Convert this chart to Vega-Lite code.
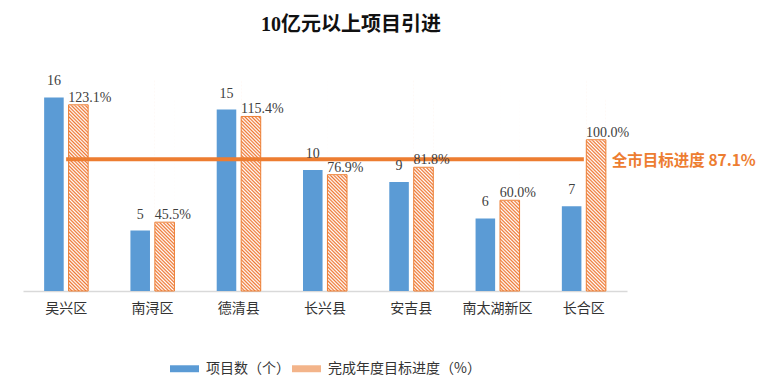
{
  "$schema": "https://vega.github.io/schema/vega-lite/v6.json",
  "width": 604,
  "height": 242,
  "autosize": "none",
  "padding": {"left": 23, "top": 49, "right": 141, "bottom": 98},
  "background": "white",
  "title": {"text": "10亿元以上项目引进", "font": "Liberation Serif, Noto Sans CJK SC", "fontSize": 20, "fontWeight": "bold", "color": "#111111", "anchor": "middle", "frame": "group", "dx": 26, "offset": 14},
  "config": {
    "view": {"stroke": null},
    "axisX": {"domainColor": "#D9D9D9", "domainWidth": 1.5, "ticks": false, "labelFont": "Noto Sans CJK SC", "labelFontSize": 14, "labelColor": "#333333", "labelPadding": 10, "labelAngle": 0, "grid": false}
  },
  "data": {"values": [
    {"region": "吴兴区", "count": 16, "pct": 1.231},
    {"region": "南浔区", "count": 5, "pct": 0.455},
    {"region": "德清县", "count": 15, "pct": 1.154},
    {"region": "长兴县", "count": 10, "pct": 0.769},
    {"region": "安吉县", "count": 9, "pct": 0.818},
    {"region": "南太湖新区", "count": 6, "pct": 0.6},
    {"region": "长合区", "count": 7, "pct": 1.0}
  ]},
  "encoding": {
    "x": {"field": "region", "type": "nominal", "title": null, "scale": {"domain": ["吴兴区", "南浔区", "德清县", "长兴县", "安吉县", "南太湖新区", "长合区"], "paddingInner": 0.49, "paddingOuter": 0.245}}
  },
  "layer": [
    {
      "mark": {"type": "bar", "fill": {"gradient": "linear", "x1": 0, "y1": 1, "x2": 0.0868, "y2": -0.0738, "stops": [
        {"offset": 0, "color": "#e73"}, {"offset": 0.0067, "color": "#fff"}, {"offset": 0.0133, "color": "#e73"}, {"offset": 0.02, "color": "#fff"},
        {"offset": 0.0267, "color": "#e73"}, {"offset": 0.0333, "color": "#fff"}, {"offset": 0.04, "color": "#e73"}, {"offset": 0.0467, "color": "#fff"},
        {"offset": 0.0533, "color": "#e73"}, {"offset": 0.06, "color": "#fff"}, {"offset": 0.0667, "color": "#e73"}, {"offset": 0.0733, "color": "#fff"},
        {"offset": 0.08, "color": "#e73"}, {"offset": 0.0867, "color": "#fff"}, {"offset": 0.0933, "color": "#e73"}, {"offset": 0.1, "color": "#fff"},
        {"offset": 0.1067, "color": "#e73"}, {"offset": 0.1133, "color": "#fff"}, {"offset": 0.12, "color": "#e73"}, {"offset": 0.1267, "color": "#fff"},
        {"offset": 0.1333, "color": "#e73"}, {"offset": 0.14, "color": "#fff"}, {"offset": 0.1467, "color": "#e73"}, {"offset": 0.1533, "color": "#fff"},
        {"offset": 0.16, "color": "#e73"}, {"offset": 0.1667, "color": "#fff"}, {"offset": 0.1733, "color": "#e73"}, {"offset": 0.18, "color": "#fff"},
        {"offset": 0.1867, "color": "#e73"}, {"offset": 0.1933, "color": "#fff"}, {"offset": 0.2, "color": "#e73"}, {"offset": 0.2067, "color": "#fff"},
        {"offset": 0.2133, "color": "#e73"}, {"offset": 0.22, "color": "#fff"}, {"offset": 0.2267, "color": "#e73"}, {"offset": 0.2333, "color": "#fff"},
        {"offset": 0.24, "color": "#e73"}, {"offset": 0.2467, "color": "#fff"}, {"offset": 0.2533, "color": "#e73"}, {"offset": 0.26, "color": "#fff"},
        {"offset": 0.2667, "color": "#e73"}, {"offset": 0.2733, "color": "#fff"}, {"offset": 0.28, "color": "#e73"}, {"offset": 0.2867, "color": "#fff"},
        {"offset": 0.2933, "color": "#e73"}, {"offset": 0.3, "color": "#fff"}, {"offset": 0.3067, "color": "#e73"}, {"offset": 0.3133, "color": "#fff"},
        {"offset": 0.32, "color": "#e73"}, {"offset": 0.3267, "color": "#fff"}, {"offset": 0.3333, "color": "#e73"}, {"offset": 0.34, "color": "#fff"},
        {"offset": 0.3467, "color": "#e73"}, {"offset": 0.3533, "color": "#fff"}, {"offset": 0.36, "color": "#e73"}, {"offset": 0.3667, "color": "#fff"},
        {"offset": 0.3733, "color": "#e73"}, {"offset": 0.38, "color": "#fff"}, {"offset": 0.3867, "color": "#e73"}, {"offset": 0.3933, "color": "#fff"},
        {"offset": 0.4, "color": "#e73"}, {"offset": 0.4067, "color": "#fff"}, {"offset": 0.4133, "color": "#e73"}, {"offset": 0.42, "color": "#fff"},
        {"offset": 0.4267, "color": "#e73"}, {"offset": 0.4333, "color": "#fff"}, {"offset": 0.44, "color": "#e73"}, {"offset": 0.4467, "color": "#fff"},
        {"offset": 0.4533, "color": "#e73"}, {"offset": 0.46, "color": "#fff"}, {"offset": 0.4667, "color": "#e73"}, {"offset": 0.4733, "color": "#fff"},
        {"offset": 0.48, "color": "#e73"}, {"offset": 0.4867, "color": "#fff"}, {"offset": 0.4933, "color": "#e73"}, {"offset": 0.5, "color": "#fff"},
        {"offset": 0.5067, "color": "#e73"}, {"offset": 0.5133, "color": "#fff"}, {"offset": 0.52, "color": "#e73"}, {"offset": 0.5267, "color": "#fff"},
        {"offset": 0.5333, "color": "#e73"}, {"offset": 0.54, "color": "#fff"}, {"offset": 0.5467, "color": "#e73"}, {"offset": 0.5533, "color": "#fff"},
        {"offset": 0.56, "color": "#e73"}, {"offset": 0.5667, "color": "#fff"}, {"offset": 0.5733, "color": "#e73"}, {"offset": 0.58, "color": "#fff"},
        {"offset": 0.5867, "color": "#e73"}, {"offset": 0.5933, "color": "#fff"}, {"offset": 0.6, "color": "#e73"}, {"offset": 0.6067, "color": "#fff"},
        {"offset": 0.6133, "color": "#e73"}, {"offset": 0.62, "color": "#fff"}, {"offset": 0.6267, "color": "#e73"}, {"offset": 0.6333, "color": "#fff"},
        {"offset": 0.64, "color": "#e73"}, {"offset": 0.6467, "color": "#fff"}, {"offset": 0.6533, "color": "#e73"}, {"offset": 0.66, "color": "#fff"},
        {"offset": 0.6667, "color": "#e73"}, {"offset": 0.6733, "color": "#fff"}, {"offset": 0.68, "color": "#e73"}, {"offset": 0.6867, "color": "#fff"},
        {"offset": 0.6933, "color": "#e73"}, {"offset": 0.7, "color": "#fff"}, {"offset": 0.7067, "color": "#e73"}, {"offset": 0.7133, "color": "#fff"},
        {"offset": 0.72, "color": "#e73"}, {"offset": 0.7267, "color": "#fff"}, {"offset": 0.7333, "color": "#e73"}, {"offset": 0.74, "color": "#fff"},
        {"offset": 0.7467, "color": "#e73"}, {"offset": 0.7533, "color": "#fff"}, {"offset": 0.76, "color": "#e73"}, {"offset": 0.7667, "color": "#fff"},
        {"offset": 0.7733, "color": "#e73"}, {"offset": 0.78, "color": "#fff"}, {"offset": 0.7867, "color": "#e73"}, {"offset": 0.7933, "color": "#fff"},
        {"offset": 0.8, "color": "#e73"}, {"offset": 0.8067, "color": "#fff"}
      ]}},
      "encoding": {
        "xOffset": {"datum": "完成年度目标进度（%）", "scale": {"domain": ["项目数（个）", "完成年度目标进度（%）"], "paddingInner": 0.2, "paddingOuter": 0}},
        "y": {"datum": 1.6, "type": "quantitative", "scale": {"domain": [0, 1.6], "nice": false}, "axis": null},
        "y2": {"datum": 0}
      }
    },
    {
      "mark": {"type": "bar", "fill": "white", "stroke": "white", "strokeWidth": 1},
      "encoding": {
        "xOffset": {"datum": "完成年度目标进度（%）"},
        "y": {"field": "pct", "type": "quantitative", "scale": {"domain": [0, 1.6], "nice": false}, "axis": null},
        "y2": {"datum": 1.6}
      }
    },
    {
      "mark": {"type": "bar", "fill": "transparent", "stroke": "#ED7D31", "strokeWidth": 1},
      "encoding": {
        "xOffset": {"datum": "完成年度目标进度（%）"},
        "y": {"field": "pct", "type": "quantitative", "scale": {"domain": [0, 1.6], "nice": false}, "axis": null}
      }
    },
    {
      "mark": {"type": "bar", "opacity": 0},
      "encoding": {
        "xOffset": {"datum": "完成年度目标进度（%）"},
        "y": {"field": "pct", "type": "quantitative", "scale": {"domain": [0, 1.6], "nice": false}, "axis": null},
        "color": {"datum": "完成年度目标进度（%）"}
      }
    },
    {
      "mark": {"type": "bar"},
      "encoding": {
        "xOffset": {"datum": "项目数（个）"},
        "y": {"field": "count", "type": "quantitative", "scale": {"domain": [0, 20], "nice": false}, "axis": null},
        "color": {"datum": "项目数（个）", "scale": {"domain": ["项目数（个）", "完成年度目标进度（%）"], "range": ["#5B9BD5", "#F3B48A"]},
          "legend": {"orient": "none", "legendX": 147, "legendY": 305, "direction": "horizontal", "title": null, "symbolType": "M-1,-0.24H1V0.24H-1Z", "symbolSize": 841, "symbolStrokeWidth": 0, "labelFont": "Noto Sans CJK SC", "labelFontSize": 14, "labelColor": "#333333", "labelOffset": 7, "columnPadding": 2, "padding": 0}}
      }
    },
    {
      "data": {"values": [{"region": "吴兴区", "target": 0.871}, {"region": "长合区", "target": 0.871}]},
      "mark": {"type": "line", "color": "#ED7D31", "strokeWidth": 4, "strokeCap": "butt"},
      "encoding": {
        "y": {"field": "target", "type": "quantitative", "scale": {"domain": [0, 1.6], "nice": false}, "axis": null}
      }
    },
    {
      "data": {"values": [{"region": "长合区", "target": 0.871, "label": "全市目标进度 87.1%"}]},
      "mark": {"type": "text", "align": "left", "baseline": "middle", "dx": 28, "dy": 2, "font": "Noto Sans CJK SC", "fontSize": 15.5, "fontWeight": "bold", "color": "#ED7D31"},
      "encoding": {
        "y": {"field": "target", "type": "quantitative", "scale": {"domain": [0, 1.6], "nice": false}, "axis": null},
        "text": {"field": "label"}
      }
    },
    {
      "mark": {"type": "text", "align": "center", "baseline": "alphabetic", "dy": -12, "font": "Liberation Serif", "fontSize": 14, "color": "#404040"},
      "encoding": {
        "xOffset": {"datum": "项目数（个）"},
        "y": {"field": "count", "type": "quantitative", "scale": {"domain": [0, 20], "nice": false}, "axis": null},
        "text": {"field": "count"}
      }
    },
    {
      "mark": {"type": "text", "align": "left", "baseline": "alphabetic", "dx": -10, "dy": -3, "font": "Liberation Serif", "fontSize": 14, "color": "#404040"},
      "encoding": {
        "xOffset": {"datum": "完成年度目标进度（%）"},
        "y": {"field": "pct", "type": "quantitative", "scale": {"domain": [0, 1.6], "nice": false}, "axis": null},
        "text": {"field": "pct", "format": ".1%"}
      }
    }
  ],
  "resolve": {"scale": {"y": "independent"}}
}
